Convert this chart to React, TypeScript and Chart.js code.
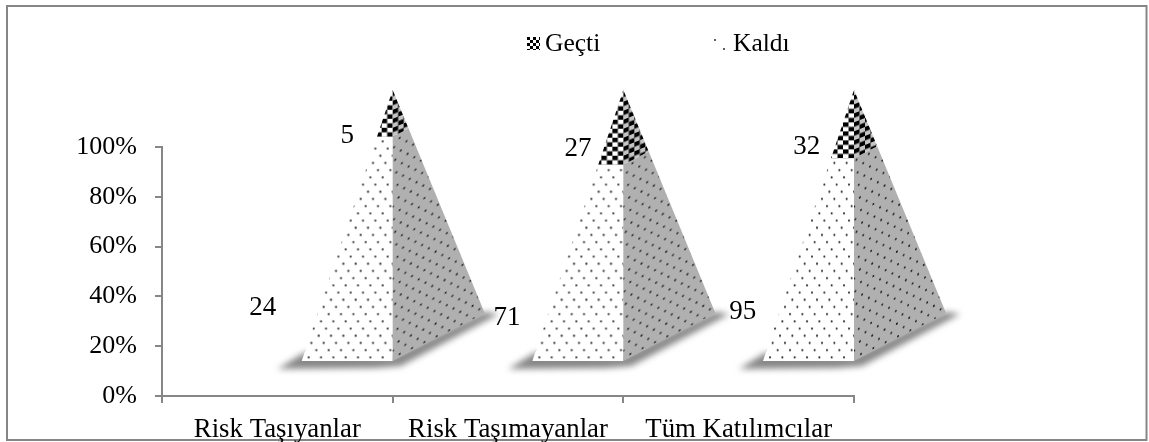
import React, { useEffect, useRef } from "react";
import { Chart, registerables } from "chart.js";

Chart.register(...registerables);

const categories = ["Risk Taşıyanlar", "Risk Taşımayanlar", "Tüm Katılımcılar"];
const passed = [5, 27, 32];
const failed = [24, 71, 95];
const seriesNames = ["Geçti", "Kaldı"];

const FONT = '"Liberation Serif", "Times New Roman", serif';
const AXIS = "#868686";

// Share of each column held by each series, as the 100% stacked axis shows it.
const passedPct = passed.map((v, i) => (v / (v + failed[i])) * 100);
const failedPct = failed.map((v, i) => (v / (passed[i] + v)) * 100);

function dotTile(W: number, H: number, rows: number, shift: number): HTMLCanvasElement {
  const c = document.createElement("canvas");
  c.width = W;
  c.height = H;
  const g = c.getContext("2d")!;
  g.fillStyle = "#1e1e1e";
  for (let k = 0; k < rows; k++) {
    for (let j = 0; j < 3; j++) {
      const x = (k * shift + j * (W / 3)) % W;
      const y = k * (H / rows) + 2;
      [x, x + W, x - W].forEach((px) => {
        g.beginPath();
        g.arc(px, y, 1.05, 0, Math.PI * 2);
        g.fill();
      });
    }
  }
  return c;
}

function checkTile(w: number, h: number): HTMLCanvasElement {
  const c = document.createElement("canvas");
  c.width = w * 2;
  c.height = h * 2;
  const g = c.getContext("2d")!;
  g.fillStyle = "#000";
  g.fillRect(0, 0, w, h);
  g.fillRect(w, h, w, h);
  return c;
}

const pyramidPlugin = {
  id: "pyramids",
  afterDatasetsDraw(chart: any) {
    const { ctx, scales } = chart;
    const xs = scales.x;
    const ys = scales.y;
    const halfCat = (xs.getPixelForValue(1) - xs.getPixelForValue(0)) / 2;
    const BASE_VAL = 14.05;
    const HEIGHT = 1.088;
    const yAt = (pctFromBase: number) => ys.getPixelForValue(BASE_VAL + pctFromBase * HEIGHT);
    const baseY = yAt(0);
    const apexY = yAt(100);
    const FRONT = 91;
    const DX = 92;
    const DY = -48;
    const dotsFront = ctx.createPattern(dotTile(37, 36, 5, 5), "repeat");
    const dotsSide = ctx.createPattern(dotTile(37, 72, 11, 74 / 11), "repeat");
    const checks = ctx.createPattern(checkTile(5.5, 4.5), "repeat");

    const poly = (pts: number[][]) => {
      ctx.beginPath();
      pts.forEach(([x, y], i) => (i ? ctx.lineTo(x, y) : ctx.moveTo(x, y)));
      ctx.closePath();
    };

    categories.forEach((_, i) => {
      const apexX = xs.getPixelForValue(i) + halfCat;
      const fl = [apexX - FRONT, baseY];
      const fr = [apexX, baseY];
      const br = [apexX + DX, baseY + DY];
      const t = passedPct[i] / 100;
      const y1 = apexY + t * (baseY - apexY);
      const yR = apexY + t * (br[1] - apexY);
      const lSplit = [apexX - FRONT * t, y1];
      const cSplit = [apexX, y1];
      const rSplit = [apexX + DX * t, yR];
      const apex = [apexX, apexY];

      // ground shadow
      ctx.save();
      ctx.filter = "blur(3px)";
      ctx.fillStyle = "#868686";
      poly([
        [fl[0] - 24, fl[1] + 8],
        [fl[0] + 2, fl[1] - 8],
        [fr[0], fr[1] - 4],
        [br[0], br[1] - 1],
        [br[0] + 14, br[1] + 1],
        [fr[0] + 8, fr[1] + 5],
        [fr[0] - 18, fr[1] + 7],
      ]);
      ctx.fill();
      ctx.restore();

      // front face, lower part
      poly([fl, fr, cSplit, lSplit]);
      ctx.fillStyle = "#fff";
      ctx.fill();
      dotsFront.setTransform(new DOMMatrix([1, 0, 0, 1, fl[0] + 7, fl[1] - 5.7]));
      ctx.fillStyle = dotsFront;
      ctx.fill();

      // right face, lower part
      poly([fr, br, rSplit, cSplit]);
      ctx.fillStyle = "#b0b0b0";
      ctx.fill();
      dotsSide.setTransform(new DOMMatrix([1, -0.48, 0, 1, fr[0] + 7, fr[1] - 9]));
      ctx.fillStyle = dotsSide;
      ctx.fill();

      // front face, upper part
      poly([lSplit, cSplit, apex]);
      ctx.fillStyle = "#fff";
      ctx.fill();
      checks.setTransform(new DOMMatrix([1, 0, 0, 1, apexX, y1]));
      ctx.fillStyle = checks;
      ctx.fill();

      // right face, upper part
      poly([cSplit, rSplit, apex]);
      ctx.fillStyle = "#c4c4c4";
      ctx.fill();
      checks.setTransform(new DOMMatrix([1, -0.4, 0, 1, apexX, y1]));
      ctx.fillStyle = checks;
      ctx.fill();
    });

    // value labels, placed by hand as in the source
    const passedLabel = [[70, 136], [70, 149], [68, 147]];
    const failedLabel = [[-14.5, 308], [-1, 318], [4, 312]];
    ctx.save();
    ctx.font = `27px ${FONT}`;
    ctx.fillStyle = "#000";
    ctx.textAlign = "center";
    ctx.textBaseline = "middle";
    categories.forEach((_, i) => {
      const cx = xs.getPixelForValue(i);
      ctx.fillText(String(passed[i]), cx + passedLabel[i][0], passedLabel[i][1]);
      ctx.fillText(String(failed[i]), cx + failedLabel[i][0], failedLabel[i][1]);
    });

    // legend
    ctx.textAlign = "left";
    ctx.textBaseline = "alphabetic";
    ctx.font = `25.5px ${FONT}`;
    ctx.fillText(seriesNames[0], 545, 51);
    ctx.fillText(seriesNames[1], 733, 51);
    const small = ctx.createPattern(checkTile(3, 3), "repeat");
    small.setTransform(new DOMMatrix([1, 0, 0, 1, 527, 37]));
    ctx.fillStyle = small;
    ctx.fillRect(527, 37, 13, 13);
    ctx.fillStyle = "#2a2a2a";
    [[715, 40], [724, 49]].forEach(([x, y]) => {
      ctx.beginPath();
      ctx.arc(x, y, 1, 0, Math.PI * 2);
      ctx.fill();
    });
    ctx.restore();
  },
  beforeDraw(chart: any) {
    const { ctx } = chart;
    ctx.save();
    ctx.fillStyle = "#fff";
    ctx.fillRect(0, 0, chart.width, chart.height);
    ctx.strokeStyle = AXIS;
    ctx.lineWidth = 2;
    ctx.strokeRect(7, 6, 1139.5, 434);
    ctx.restore();
  },
};

export default function App() {
  const ref = useRef<HTMLCanvasElement>(null);
  useEffect(() => {
    const chart = new Chart(ref.current!, {
      type: "bar",
      data: {
        labels: categories,
        datasets: [
          { label: seriesNames[1], data: failedPct, backgroundColor: "rgba(0,0,0,0)", stack: "s" },
          { label: seriesNames[0], data: passedPct, backgroundColor: "rgba(0,0,0,0)", stack: "s" },
        ],
      },
      options: {
        animation: false,
        responsive: false,
        layout: { padding: { top: 147, right: 295, left: 0, bottom: 0 } },
        plugins: { legend: { display: false }, tooltip: { enabled: false } },
        scales: {
          x: {
            stacked: true,
            afterFit: (s: any) => { s.height = 46; },
            grid: { drawOnChartArea: false, color: AXIS, lineWidth: 2, tickLength: 7 },
            border: { color: AXIS, width: 2 },
            ticks: { font: { family: FONT, size: 26.8 }, color: "#000", padding: 11, maxRotation: 0 },
          },
          y: {
            stacked: true,
            min: 0,
            max: 100,
            afterFit: (s: any) => { s.width = 162; },
            grid: { drawOnChartArea: false, color: AXIS, lineWidth: 2, tickLength: 7 },
            border: { color: AXIS, width: 2 },
            ticks: {
              stepSize: 20,
              font: { family: FONT, size: 26 },
              color: "#000",
              padding: 18,
              callback: (v: any) => `${v}%`,
            },
          },
        },
      },
      plugins: [pyramidPlugin],
    } as any);
    return () => chart.destroy();
  }, []);
  return (
    <div style={{ position: "fixed", left: 0, top: 0, width: 1149, height: 442, background: "#fff" }}>
      <canvas ref={ref} width={1149} height={442} style={{ display: "block" }} />
    </div>
  );
}
